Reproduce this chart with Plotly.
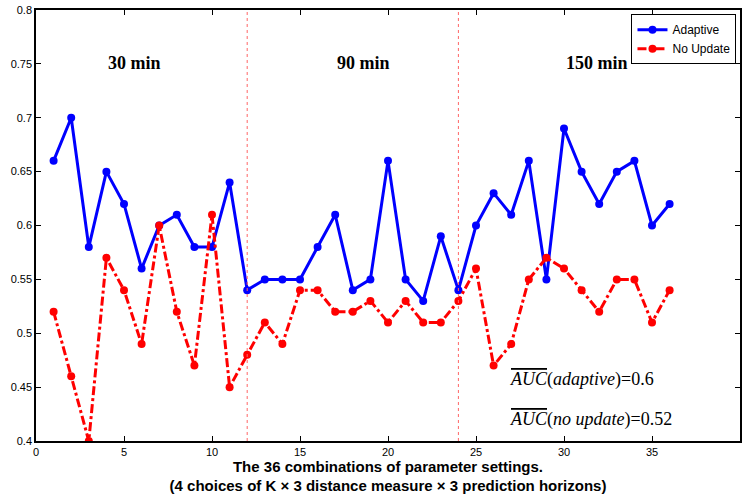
import plotly.graph_objects as go

settings = list(range(1, 37))
adaptive = [0.66, 0.70, 0.58, 0.65, 0.62, 0.56, 0.60, 0.61, 0.58, 0.58, 0.64, 0.54,
            0.55, 0.55, 0.55, 0.58, 0.61, 0.54, 0.55, 0.66, 0.55, 0.53, 0.59, 0.54,
            0.60, 0.63, 0.61, 0.66, 0.55, 0.69, 0.65, 0.62, 0.65, 0.66, 0.60, 0.62]
no_update = [0.52, 0.46, 0.40, 0.57, 0.54, 0.49, 0.60, 0.52, 0.47, 0.61, 0.45, 0.48,
             0.51, 0.49, 0.54, 0.54, 0.52, 0.52, 0.53, 0.51, 0.53, 0.51, 0.51, 0.53,
             0.56, 0.47, 0.49, 0.55, 0.57, 0.56, 0.54, 0.52, 0.55, 0.55, 0.51, 0.54]
boundaries = [12, 24]
horizon_labels = ["30 min", "90 min", "150 min"]
horizon_x = [4, 17, 30]
horizon_y = 0.751
x_ticks = [0, 5, 10, 15, 20, 25, 30, 35, 40]
y_ticks = [0.4, 0.45, 0.5, 0.55, 0.6, 0.65, 0.7, 0.75, 0.8]

fig = go.Figure()
fig.add_trace(go.Scatter(x=settings, y=adaptive, mode="lines+markers", name="Adaptive",
                         line=dict(color="#0000ff", width=3),
                         marker=dict(color="#0000ff", size=8)))
fig.add_trace(go.Scatter(x=settings, y=no_update, mode="lines+markers", name="No Update",
                         line=dict(color="#ff0000", width=3, dash="dashdot"),
                         marker=dict(color="#ff0000", size=8)))

for b in boundaries:
    fig.add_shape(type="line", x0=b, x1=b, y0=0, y1=1, xref="x", yref="paper",
                  line=dict(color="#ff6666", width=1, dash="dot"))

for lab, xx in zip(horizon_labels, horizon_x):
    fig.add_annotation(x=xx, y=horizon_y, text="<b>" + lab + "</b>", showarrow=False,
                       xanchor="left", yanchor="middle",
                       font=dict(family="Liberation Serif", size=18, color="black"))

fig.add_annotation(x=26.8, y=0.457,
                   text='<span style="text-decoration:overline"><i>AUC</i></span>(<i>adaptive</i>)=0.6',
                   showarrow=False, xanchor="left", yanchor="middle",
                   font=dict(family="Liberation Serif", size=18, color="black"))
fig.add_annotation(x=26.8, y=0.420,
                   text='<span style="text-decoration:overline"><i>AUC</i></span>(<i>no update</i>)=0.52',
                   showarrow=False, xanchor="left", yanchor="middle",
                   font=dict(family="Liberation Serif", size=18, color="black"))

axis_common = dict(showline=True, linecolor="black", linewidth=1.5, mirror="ticks",
                   ticks="inside", ticklen=5, tickcolor="black", showgrid=False,
                   zeroline=False, automargin=False,
                   tickfont=dict(family="Liberation Sans", size=11, color="black"))

fig.update_xaxes(range=[0, 40], tickvals=x_ticks, ticktext=[str(t) for t in x_ticks],
                 title=dict(text="<b>The 36 combinations of parameter settings.<br>(4 choices of K \u00d7 3 distance measure \u00d7 3 prediction horizons)</b>",
                            font=dict(family="Liberation Sans", size=15, color="black"), standoff=3),
                 **axis_common)
fig.update_yaxes(range=[0.4, 0.8], tickvals=y_ticks, ticktext=[f"{t:g}" for t in y_ticks],
                 **axis_common)

fig.update_layout(width=743, height=499, plot_bgcolor="white", paper_bgcolor="white",
                  margin=dict(l=36, r=3, t=10, b=58, autoexpand=False),
                  showlegend=True,
                  legend=dict(x=0.995, y=0.99, xanchor="right", yanchor="top",
                              bgcolor="white", bordercolor="black", borderwidth=1,
                              font=dict(family="Liberation Sans", size=12, color="black"),
                              tracegroupgap=0, itemwidth=30))

fig.write_html("out.html", config={"displayModeBar": False},
               post_script="document.body.style.margin='0';document.body.style.overflow='hidden';")
